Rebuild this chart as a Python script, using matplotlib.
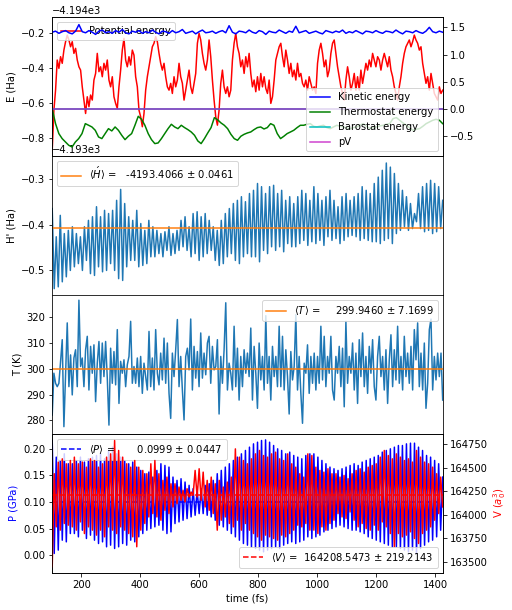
import numpy as np
import matplotlib
matplotlib.use("Agg")
import matplotlib.pyplot as plt

# ---------------- data ----------------
T_START, T_END = 101.5, 1426.0

# Panel 1: energies (Ha). Potential energy given relative to -4194 Ha
E_BASE = -4194.0
potential_rel = [
    -0.870, -0.641, -0.526, -0.353, -0.401, -0.334, -0.372, -0.296, -0.248, -0.210,
    -0.238, -0.277, -0.248, -0.315, -0.286, -0.353, -0.392, -0.411, -0.507, -0.583,
    -0.660, -0.564, -0.621, -0.554, -0.583, -0.468, -0.430, -0.315, -0.420, -0.392,
    -0.449, -0.372, -0.411, -0.353, -0.468, -0.507, -0.449, -0.564, -0.602, -0.631,
    -0.507, -0.411, -0.296, -0.229, -0.353, -0.392, -0.334, -0.382, -0.296, -0.325,
    -0.449, -0.507, -0.641, -0.679, -0.736, -0.660, -0.526, -0.449, -0.392, -0.334,
    -0.277, -0.257, -0.219, -0.248, -0.315, -0.372, -0.411, -0.372, -0.449, -0.507,
    -0.526, -0.487, -0.545, -0.449, -0.507, -0.468, -0.372, -0.449, -0.487, -0.583,
    -0.526, -0.468, -0.411, -0.507, -0.545, -0.487, -0.430, -0.257, -0.200, -0.238,
    -0.315, -0.372, -0.411, -0.353, -0.238, -0.334, -0.468, -0.583, -0.679, -0.727,
    -0.641, -0.487, -0.411, -0.507, -0.545, -0.507, -0.564, -0.526, -0.353, -0.257,
    -0.200, -0.277, -0.315, -0.392, -0.353, -0.430, -0.334, -0.392, -0.315,
    -0.430, -0.507, -0.468, -0.535, -0.449, -0.526, -0.430, -0.507, -0.449, -0.516,
    -0.545, -0.468, -0.602, -0.564, -0.468, -0.353, -0.315, -0.277, -0.257, -0.334,
    -0.392, -0.296, -0.353, -0.430, -0.372, -0.449, -0.411, -0.468, -0.372, -0.449,
    -0.430, -0.487, -0.507, -0.468, -0.526, -0.449, -0.487, -0.526, -0.507, -0.545,
    -0.372, -0.296, -0.257, -0.315, -0.392, -0.353, -0.449, -0.411, -0.315, -0.257,
    -0.238, -0.315, -0.392, -0.449, -0.507, -0.545, -0.583, -0.468, -0.392, -0.449,
    -0.526, -0.487, -0.430, -0.526, -0.449, -0.526, -0.411, -0.487, -0.430, -0.372,
    -0.411, -0.353, -0.392, -0.315, -0.353, -0.392, -0.334, -0.353, -0.411, -0.353,
    -0.315, -0.353, -0.392, -0.334, -0.411, -0.449, -0.507, -0.545, -0.583, -0.507,
    -0.449, -0.372, -0.315, -0.277, -0.257, -0.238, -0.277, -0.248, -0.210, -0.238,
    -0.257, -0.296, -0.277, -0.372, -0.430, -0.487, -0.449, -0.526, -0.430, -0.487,
    -0.545, -0.564, -0.583, -0.507, -0.545, -0.526,
]
kinetic = [
    1.41, 1.43, 1.39, 1.42, 1.44, 1.40, 1.38, 1.43, 1.55, 1.42,
    1.40, 1.44, 1.41, 1.37, 1.43, 1.45, 1.40, 1.42, 1.39, 1.44,
    1.41, 1.46, 1.40, 1.38, 1.43, 1.41, 1.44, 1.39, 1.42, 1.40,
    1.45, 1.41, 1.38, 1.43, 1.42, 1.39, 1.44, 1.40, 1.42, 1.46,
    1.39, 1.41, 1.43, 1.38, 1.42, 1.45, 1.40, 1.41, 1.43, 1.39,
    1.42, 1.44, 1.40, 1.53, 1.41, 1.38, 1.43, 1.42, 1.40, 1.45,
    1.41, 1.39, 1.44, 1.42, 1.37, 1.43, 1.41, 1.40, 1.45, 1.42,
    1.39, 1.43, 1.41, 1.52, 1.40, 1.42, 1.44, 1.39, 1.41, 1.43,
    1.40, 1.38, 1.44, 1.42, 1.40, 1.43, 1.41, 1.45, 1.39, 1.42,
    1.40, 1.44, 1.41, 1.38, 1.43, 1.42, 1.40, 1.44, 1.41, 1.39,
    1.43, 1.42, 1.40, 1.45, 1.41, 1.38, 1.43, 1.42, 1.40, 1.44,
    1.41, 1.39, 1.43, 1.50, 1.42, 1.40, 1.43, 1.41,
]
thermostat = [
    0.000, -0.270, -0.453, -0.545, -0.607, -0.668, -0.699, -0.607, -0.545, -0.453,
    -0.270, -0.300, -0.331, -0.392, -0.515, -0.545, -0.453, -0.362, -0.404, -0.331,
    -0.392, -0.484, -0.564, -0.502, -0.453, -0.300, -0.135, -0.190, -0.300, -0.453,
    -0.564, -0.637, -0.625, -0.545, -0.453, -0.362, -0.282, -0.331, -0.362, -0.300,
    -0.343, -0.380, -0.423, -0.484, -0.588, -0.637, -0.545, -0.441, -0.343, -0.160,
    -0.200, -0.257, -0.300, -0.362, -0.466, -0.545, -0.576, -0.502, -0.466, -0.441,
    -0.423, -0.380, -0.343, -0.331, -0.368, -0.343, -0.270, -0.300, -0.453, -0.545,
    -0.502, -0.453, -0.423, -0.392, -0.343, -0.300, -0.300, -0.282, -0.270, -0.319,
    -0.331, -0.312, -0.300, -0.343, -0.362, -0.331, -0.300, -0.319, -0.331, -0.349,
    -0.362, -0.343, -0.331, -0.300, -0.270, -0.319, -0.362, -0.343, -0.331, -0.312,
    -0.300, -0.282, -0.270, -0.178, -0.159, -0.208, -0.257, -0.300, -0.343, -0.392,
    -0.374, -0.362, -0.319, -0.270, -0.239, -0.208, -0.190, -0.208, -0.270,
]
BAROSTAT_LEVEL = 0.0
PV_LEVEL = 0.0

# Panel 2: H' (Ha), relative to -4193 Ha
H_BASE = -4193.0
H_MEAN, H_STD = -4193.4066, 0.0461
h_prime_rel = [
    -0.364, -0.540, -0.426, -0.536, -0.379, -0.525, -0.419, -0.514, -0.412, -0.500,
    -0.404, -0.492, -0.419, -0.485, -0.426, -0.500, -0.404, -0.478, -0.390, -0.507,
    -0.382, -0.511, -0.360, -0.492, -0.382, -0.503, -0.368, -0.500, -0.375, -0.485,
    -0.368, -0.500, -0.346, -0.518, -0.322, -0.522, -0.353, -0.492, -0.382, -0.478,
    -0.390, -0.478, -0.368, -0.492, -0.397, -0.489, -0.412, -0.485, -0.390, -0.470,
    -0.404, -0.470, -0.412, -0.463, -0.419, -0.470, -0.415, -0.456, -0.404, -0.467,
    -0.419, -0.463, -0.412, -0.456, -0.390, -0.448, -0.382, -0.456, -0.404, -0.470,
    -0.375, -0.463, -0.371, -0.478, -0.382, -0.470, -0.375, -0.463, -0.390, -0.456,
    -0.404, -0.478, -0.412, -0.489, -0.390, -0.485, -0.375, -0.470, -0.364, -0.463,
    -0.353, -0.478, -0.346, -0.485, -0.338, -0.470, -0.349, -0.463, -0.331, -0.470,
    -0.324, -0.470, -0.309, -0.481, -0.316, -0.456, -0.331, -0.463, -0.316, -0.448,
    -0.313, -0.456, -0.331, -0.448, -0.324, -0.459, -0.346, -0.441, -0.338, -0.448,
    -0.353, -0.448, -0.338, -0.441, -0.324, -0.434, -0.331, -0.445, -0.346, -0.437,
    -0.316, -0.441, -0.331, -0.434, -0.346, -0.445, -0.338, -0.426, -0.324, -0.434,
    -0.346, -0.430, -0.360, -0.441, -0.338, -0.434, -0.331, -0.426, -0.346, -0.423,
    -0.338, -0.426, -0.331, -0.434, -0.316, -0.430, -0.324, -0.434, -0.331, -0.437,
    -0.309, -0.437, -0.295, -0.441, -0.280, -0.434, -0.264, -0.430, -0.273, -0.441,
    -0.287, -0.419, -0.309, -0.412, -0.324, -0.404, -0.338, -0.412, -0.353, -0.408,
    -0.375, -0.393, -0.331, -0.408, -0.316, -0.415, -0.309, -0.412, -0.302, -0.419,
    -0.309, -0.415, -0.316, -0.408, -0.346,
]

# Panel 3: temperature (K)
T_MEAN, T_STD = 299.9460, 7.1699
temperature = [
    282.1, 298.3, 294.4, 293.1, 294.4, 302.9, 311.3, 277.6, 298.3, 317.8,
    293.1, 305.4, 289.9, 304.2, 307.4, 293.1, 326.6, 300.9, 304.2, 293.1,
    307.4, 312.6, 291.8, 308.7, 298.3, 309.3, 287.3, 302.2, 310.6, 294.4,
    310.0, 297.0, 310.6, 296.4, 278.2, 308.0, 294.4, 306.7, 293.8, 315.2,
    286.6, 302.9, 298.3, 303.5, 293.1, 301.6, 304.8, 318.4, 294.4, 300.9,
    294.4, 304.2, 293.1, 304.8, 290.5, 302.2, 297.0, 291.8, 314.5, 293.1,
    304.2, 291.8, 315.2, 298.3, 293.8, 306.1, 295.7, 311.9, 294.4, 310.0,
    290.5, 280.8, 306.1, 297.0, 307.4, 319.1, 293.1, 304.8, 291.8, 280.2,
    304.8, 308.0, 299.6, 319.3, 291.8, 308.7, 296.4, 306.7, 293.1, 313.9,
    296.4, 306.1, 297.7, 310.0, 312.6, 294.4, 308.7, 299.6, 300.9, 311.3,
    282.5, 304.8, 294.4, 307.4, 325.6, 291.8, 302.2, 298.3, 291.8, 316.5,
    293.1, 308.0, 287.9, 304.8, 293.1, 307.4, 298.3, 306.1, 297.0,
    315.8, 287.9, 308.7, 298.3, 284.7, 310.0, 295.7, 304.8, 291.8, 320.6,
    294.4, 304.8, 287.9, 308.7, 297.0, 304.8, 293.1, 316.5, 293.1, 312.6,
    291.8, 307.4, 297.0, 282.5, 306.7, 295.7, 300.9, 321.0, 291.8, 304.8,
    290.5, 278.9, 302.2, 298.3, 309.3, 290.5, 304.8, 294.4, 306.1, 291.8,
    304.8, 294.4, 316.5, 295.7, 312.6, 293.1, 304.8, 298.3, 312.6, 291.8,
    287.9, 304.8, 298.3, 308.7, 293.1, 308.0, 285.3, 318.4, 294.4, 304.8,
    298.3, 310.0, 291.8, 306.1, 286.6, 311.3, 297.0, 313.9, 293.1, 304.8,
    290.5, 308.7, 298.3, 311.3, 293.1, 287.9, 304.8, 312.6, 297.0, 304.8,
    291.8, 307.4, 286.6, 303.5, 313.2, 293.1, 307.4, 295.7, 316.5, 294.4,
    304.8, 291.8, 312.6, 297.0, 306.1, 294.4, 308.7, 291.8, 315.2, 303.5,
    317.8, 293.1, 306.1, 291.8, 310.0, 284.7, 294.4, 315.2, 319.3, 291.8,
    304.8, 295.7, 306.1, 297.0, 306.1, 287.9,
]

# Panel 4: pressure (GPa) and volume (bohr^3)
P_MEAN, P_STD = 0.0999, 0.0447
V_MEAN, V_STD = 164208.5473, 219.2143
pressure = [
    0.2153, 0.0034, 0.1841, 0.0097, 0.1779, 0.0283, 0.1903, 0.0252, 0.1717, 0.0408,
    0.1717, 0.0408, 0.1779, 0.0346, 0.1841, 0.0470, 0.1748, 0.0315, 0.1810, 0.0377,
    0.1841, 0.0283, 0.1872, 0.0221, 0.1903, 0.0252, 0.1810, 0.0159, 0.1966, 0.0190,
    0.2028, 0.0128, 0.1903, 0.0159, 0.1841, 0.0221, 0.1779, 0.0190, 0.1717, 0.0283,
    0.1748, 0.0252, 0.1654, 0.0346, 0.1592, 0.0408, 0.1530, 0.0470, 0.1561, 0.0502,
    0.1467, 0.0533, 0.1592, 0.0564, 0.1717, 0.0470, 0.1685, 0.0408, 0.1654, 0.0439,
    0.1467, 0.0595, 0.1405, 0.0626, 0.1436, 0.0657, 0.1374, 0.0688, 0.1312, 0.0720,
    0.1249, 0.0751, 0.1218, 0.0782, 0.1249, 0.0782, 0.1312, 0.0751, 0.1343, 0.0720,
    0.1405, 0.0657, 0.1530, 0.0564, 0.1592, 0.0533, 0.1654, 0.0470, 0.1717, 0.0408,
    0.1779, 0.0346, 0.1841, 0.0283, 0.1903, 0.0221, 0.1966, 0.0190, 0.2028, 0.0159,
    0.2090, 0.0128, 0.2121, 0.0097, 0.2153, 0.0065, 0.2165, 0.0097, 0.2121, 0.0128,
    0.2059, 0.0159, 0.1997, 0.0128, 0.1966, 0.0190, 0.1903, 0.0221, 0.1935, 0.0252,
    0.1872, 0.0221, 0.1841, 0.0252, 0.1810, 0.0283, 0.1872, 0.0346, 0.1903, 0.0315,
    0.1903, 0.0346, 0.1841, 0.0377, 0.1779, 0.0439, 0.1717, 0.0470, 0.1654, 0.0502,
    0.1623, 0.0533, 0.1592, 0.0564, 0.1623, 0.0533, 0.1654, 0.0502, 0.1685, 0.0470,
    0.1717, 0.0470, 0.1685, 0.0439, 0.1748, 0.0408, 0.1779, 0.0346, 0.1810, 0.0315,
    0.1841, 0.0283, 0.1872, 0.0252, 0.1935, 0.0221, 0.1966, 0.0190, 0.1997, 0.0159,
    0.2028, 0.0159, 0.2059, 0.0128, 0.2059, 0.0097, 0.2090, 0.0065, 0.2103, 0.0097,
    0.2103, 0.0034, 0.2028, 0.0128, 0.1966, 0.0190, 0.1872, 0.0252, 0.1841, 0.0283,
    0.1779, 0.0346, 0.1717, 0.0470, 0.1467,
]
volume = [
    163446, 164438, 163871, 164562, 163836, 164597, 163907, 164544, 163889, 164579,
    163871, 164615, 163836, 164544, 163924, 164562, 163800, 164508, 163871, 164597,
    163836, 164579, 163783, 164508, 163836, 164544, 163765, 164615, 163871, 164650,
    163836, 164792, 163800, 164686, 163871, 164615, 163836, 164544, 163800, 164508,
    163765, 164579, 163659, 164508, 163836, 164473, 163907, 164438, 163977, 164544,
    164013, 164579, 163977, 164438, 163942, 164367, 164048, 164402, 164013, 164331,
    164084, 164331, 164119, 164296, 164154, 164261, 164137, 164278, 164190, 164243,
    164208, 164473, 164190, 164491, 164154, 164455, 164084, 164367, 164048, 164402,
    164013, 164331, 163836, 164367, 163942, 164296, 163977, 164349, 163907, 164402,
    163871, 164703, 163942, 164615, 163836, 164579, 163907, 164544, 163836, 164597,
    163800, 164650, 163765, 164686, 163729, 164632, 163783, 164615, 163765, 164650,
    163747, 164668, 163729, 164597, 163783, 164579, 163765, 164650, 163800, 164544,
    163836, 164508, 163889, 164438, 163871, 164402, 163907, 164650, 163836, 164632,
    163836, 164508, 163800, 164473, 163871, 164455, 163836, 164491, 163907, 164438,
    163942, 164438, 164013, 164402, 163977, 164420, 163960, 164385, 164030, 164438,
    163942, 164473, 163871, 164491, 163907, 164455, 163853, 164508, 163836, 164526,
    163889, 164544, 163836, 164615, 163924, 164686, 163871, 164632, 163800, 164597,
    163659, 164650, 163800, 164615, 163765, 164579, 163783, 164597, 163818, 164562,
    163747, 164686, 163694, 164615, 163800, 164562, 163836, 164544, 163871, 164508,
    163942, 164438, 164013, 164402, 164084,
]

# ---------------- figure ----------------
W, H, DPI = 512, 610, 72
fig = plt.figure(figsize=(W / DPI, H / DPI), dpi=DPI)
axs = fig.subplots(4, 1, sharex=True)
fig.subplots_adjust(left=0.102, right=0.8646, top=0.9716, bottom=0.0611, hspace=0)

def tgrid(values):
    return np.linspace(T_START, T_END, len(values))

# Panel 1
ax = axs[0]
ax.plot(tgrid(potential_rel), E_BASE + np.array(potential_rel), color='r', lw=1.5,
        label='Potential energy')
ax.set_ylim(-4194.905, -4194.108)
ax.set_ylabel('E (Ha)')
ax.legend(loc='upper left')
axr = ax.twinx()
tk = tgrid(kinetic)
axr.plot(tk, kinetic, color='b', lw=1.5, label='Kinetic energy')
axr.plot(tgrid(thermostat), thermostat, color='g', lw=1.5, label='Thermostat energy')
axr.plot(tk, np.full(len(tk), BAROSTAT_LEVEL), color='c', lw=1.5, label='Barostat energy')
axr.plot(tk, np.full(len(tk), PV_LEVEL), color='m', lw=1.5, alpha=0.75, label='pV')
axr.set_ylim(-0.868, 1.684)
axr.legend(loc='lower right')

# Panel 2
ax = axs[1]
ax.plot(tgrid(h_prime_rel), H_BASE + np.array(h_prime_rel), color='C0', lw=1.5)
ax.axhline(H_MEAN, color='C1', lw=1.5,
           label=r"$\langle \acute{H} \rangle$ = " + f"{H_MEAN:12.4f} ± {H_STD:.4f}")
ax.set_ylim(-4193.554, -4193.249)
ax.set_ylabel("H' (Ha)")
ax.legend(loc='upper left')

# Panel 3
ax = axs[2]
ax.plot(tgrid(temperature), temperature, color='C0', lw=1.5)
ax.axhline(T_MEAN, color='C1', lw=1.5,
           label=r"$\langle T \rangle$ = " + f"{T_MEAN:12.4f} ± {T_STD:.4f}")
ax.set_ylim(274.8, 328.6)
ax.set_ylabel('T (K)')
ax.legend(loc='upper right')

# Panel 4
ax = axs[3]
ax.plot(tgrid(pressure), pressure, color='b', lw=1.5)
ax.axhline(P_MEAN, color='b', ls='--', lw=1.5,
           label=r"$\langle P \rangle$ = " + f"{P_MEAN:12.4f} ± {P_STD:.4f}")
ax.set_ylim(-0.0327, 0.2277)
ax.set_ylabel('P (GPa)', color='b')
ax.legend(loc='upper left')
axv = ax.twinx()
axv.plot(tgrid(volume), volume, color='r', lw=1.5)
axv.axhline(V_MEAN, color='r', ls='--', lw=1.5,
            label=r"$\langle V \rangle$ = " + f"{V_MEAN:12.4f} ± {V_STD:.4f}")
axv.set_ylim(163382, 164863)
axv.set_ylabel(r'V ($a_0^3$)', color='r')
axv.legend(loc='lower right')
ax.set_xlabel('time (fs)')
ax.set_xlim(T_START, T_END)

fig.savefig('out.png', dpi=DPI)
